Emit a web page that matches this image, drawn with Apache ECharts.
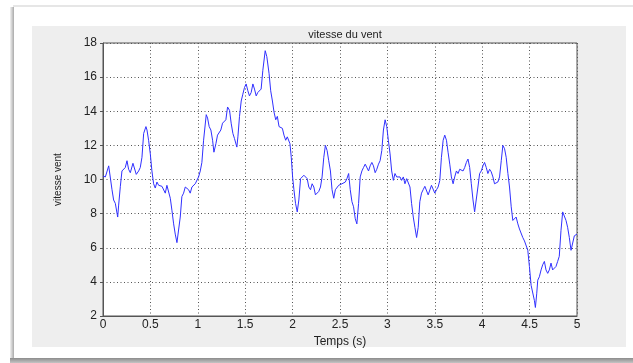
<!DOCTYPE html>
<html><head><meta charset="utf-8">
<script src="https://cdn.jsdelivr.net/npm/echarts@6/dist/echarts.min.js"></script>
<style>html,body{margin:0;padding:0;background:#fff}#c{width:633px;height:363px}</style>
</head><body><div id="c"></div>
<script>
const titleText = 'vitesse du vent';
const xName = 'Temps (s)';
const yName = 'vitesse vent';
const xTickValues = [0, 0.5, 1, 1.5, 2, 2.5, 3, 3.5, 4, 4.5, 5];
const yTickValues = [2, 4, 6, 8, 10, 12, 14, 16, 18];

const times = [
0,0.025,0.06,0.077,0.095,0.112,0.13,0.155,0.165,0.183,0.2,0.218,0.235,0.253,0.27,0.288,0.316,0.33,0.351,0.376,
0.393,0.411,0.429,0.453,0.464,0.481,0.499,0.516,0.534,0.551,0.569,0.587,0.604,0.622,0.639,0.657,0.674,0.692,0.71,0.727,
0.745,0.762,0.78,0.797,0.815,0.832,0.85,0.868,0.885,0.903,0.92,0.938,0.955,0.973,0.991,1.008,1.026,1.043,1.061,1.089,
1.103,1.12,1.138,1.156,1.17,1.191,1.208,1.226,1.243,1.261,1.279,1.296,1.314,1.324,1.335,1.352,1.37,1.387,1.412,1.423,
1.44,1.458,1.475,1.493,1.51,1.528,1.545,1.563,1.581,1.598,1.616,1.633,1.651,1.668,1.686,1.711,1.728,
1.752,1.769,1.787,1.804,1.822,1.839,1.857,1.874,1.892,1.909,1.927,1.944,1.962,1.972,1.986,2.0,2.014,2.031,2.049,2.066,
2.084,2.101,2.119,2.136,2.154,2.171,2.189,2.206,2.224,2.241,2.259,2.276,2.294,2.311,2.329,2.346,2.364,2.381,2.399,2.416,
2.434,2.451,2.469,2.486,2.503,2.521,2.538,2.556,2.573,2.591,2.608,2.626,2.643,2.661,2.678,2.696,2.713,2.731,2.748,2.766,
2.783,2.801,2.818,2.836,2.853,2.871,2.888,2.906,2.923,2.941,2.958,2.976,2.993,3.01,3.028,3.045,3.063,3.08,3.098,3.115,
3.133,3.15,3.168,3.185,3.203,3.22,3.238,3.255,3.273,3.29,3.308,3.325,
3.342,3.36,3.377,3.395,3.412,3.43,3.447,3.465,3.482,3.5,3.518,3.535,3.553,3.57,3.588,3.605,3.623,3.64,3.658,3.675,
3.693,3.71,3.728,3.745,3.763,3.78,3.798,3.815,3.833,3.85,3.868,3.885,3.903,3.92,3.938,3.955,3.973,3.99,4.008,4.025,
4.043,4.06,4.078,4.095,4.113,4.13,4.148,4.165,4.183,4.201,4.218,4.236,4.253,4.271,4.288,4.306,4.323,4.341,4.358,4.376,
4.393,4.411,4.428,4.446,4.463,4.481,4.498,4.516,4.533,4.551,4.561,4.575,4.586,4.603,4.621,4.638,4.656,4.673,4.691,4.708,
4.726,4.743,4.761,4.778,4.796,4.813,4.831,4.849,4.866,4.884,4.901,4.919,4.937,4.954,4.972,4.989,5.0
];
const speeds = [
10.2,10.15,10.8,10.7,9.4,8.8,8.6,7.8,8.5,9.6,10.5,10.5,10.7,11.1,10.6,10.4,10.95,10.9,10.3,10.5,
10.7,11.3,12.7,13.1,12.9,12.3,11.5,10.5,9.75,9.5,9.85,9.66,9.56,9.6,9.5,9.2,9.66,9.66,8.9,8.2,
7.4,6.8,6.3,6.4,7.8,9.0,9.2,9.56,9.66,9.4,9.2,9.56,9.66,9.75,9.66,10.15,10.5,11.0,12.3,13.8,
13.6,13.1,12.9,12.3,11.6,12.1,12.6,12.5,12.9,13.3,13.3,13.5,14.25,14.35,14.05,13.3,12.7,12.4,11.9,12.5,
13.7,14.6,15.0,15.4,15.6,15.2,14.9,15.1,15.6,15.3,14.9,15.1,15.2,15.3,16.4,17.55,17.2,
16.2,15.2,14.6,13.95,13.5,13.7,13.1,13.0,13.0,12.6,12.3,12.5,12.4,12.1,11.3,10.15,9.4,8.6,8.1,8.8,
10.05,10.15,10.25,10.35,10.05,9.56,9.4,9.75,9.56,9.1,9.1,9.3,9.56,10.15,11.3,12.0,11.7,11.1,10.5,9.4,
8.9,9.4,9.3,9.66,9.56,9.75,9.66,9.85,10.05,10.35,9.4,8.7,8.4,7.7,7.4,8.6,10.15,10.5,10.7,10.9,
11.0,10.5,10.8,11.0,10.8,10.4,10.6,10.9,11.1,11.7,12.9,13.5,13.1,12.3,11.5,10.5,9.95,10.35,10.15,10.05,
10.15,9.95,10.15,9.75,10.05,10.15,9.56,8.6,7.8,7.2,6.6,7.2,
8.7,9.2,9.4,9.6,9.5,9.1,9.1,9.66,9.56,9.2,9.4,9.56,9.95,11.3,12.3,12.6,12.3,11.6,10.9,10.15,
9.75,10.15,10.5,10.35,10.6,10.7,10.5,10.7,11.0,11.2,10.7,9.75,8.8,8.1,8.1,9.56,10.35,10.5,10.8,11.0,
10.7,10.35,10.6,10.45,10.15,9.75,9.85,9.85,10.15,11.1,12.0,11.8,11.3,10.35,9.56,8.4,7.6,7.7,7.8,7.4,
7.1,7.0,6.6,6.4,6.5,5.85,4.9,3.8,3.7,2.9,2.5,3.3,4.1,4.3,4.7,5.0,5.2,4.7,4.5,4.7,
5.1,4.7,4.6,4.9,5.2,5.5,7.0,8.1,8.0,7.6,7.2,6.6,5.85,5.95,6.7,6.8,6.8
];

const FONT = 'Liberation Sans, Arial, Helvetica, sans-serif';
const data = times.map((t, i) => [t, speeds[i]]);
const chart = echarts.init(document.getElementById('c'), null, {renderer: 'canvas'});
chart.setOption({
  animation: false,
  backgroundColor: '#ffffff',
  graphic: [
    {type: 'rect', z: -100, silent: true, shape: {x: 13, y: 5, width: 620, height: 2}, style: {fill: '#e6e6e6'}},
    {type: 'rect', z: -100, silent: true, shape: {x: 10, y: 7, width: 4, height: 352},
      style: {fill: new echarts.graphic.LinearGradient(0, 0, 1, 0, [{offset: 0, color: '#f2f2f2'}, {offset: 1, color: '#aaaaaa'}])}},
    {type: 'rect', z: -100, silent: true, shape: {x: 10, y: 358, width: 623, height: 5},
      style: {fill: new echarts.graphic.LinearGradient(0, 0, 0, 1, [{offset: 0, color: '#8c8c8c'}, {offset: 1, color: '#c4c4c4'}])}},
    {type: 'rect', z: -100, silent: true, shape: {x: 32, y: 26, width: 594, height: 321}, style: {fill: '#eeeeee'}}
  ],
  title: {
    text: titleText, left: 340, top: 24, textAlign: 'center',
    textStyle: {fontFamily: FONT, fontSize: 11, fontWeight: 'normal', color: '#222'}
  },
  grid: {
    left: 103, top: 43, right: 56, bottom: 47,
    show: true, backgroundColor: '#ffffff', borderColor: '#555', borderWidth: 1
  },
  xAxis: {
    type: 'value',
    min: xTickValues[0], max: xTickValues[xTickValues.length - 1],
    interval: xTickValues[1] - xTickValues[0],
    name: xName, nameLocation: 'middle', nameGap: 18,
    nameTextStyle: {fontFamily: FONT, fontSize: 12, color: '#222'},
    axisLine: {show: true, lineStyle: {color: '#555', width: 1}},
    axisTick: {show: false},
    axisLabel: {fontFamily: FONT, fontSize: 12, color: '#222', margin: 3},
    splitLine: {show: true, lineStyle: {color: '#555', width: 1, type: [1, 2.5]}}
  },
  yAxis: {
    type: 'value',
    min: yTickValues[0], max: yTickValues[yTickValues.length - 1],
    interval: yTickValues[1] - yTickValues[0],
    name: yName, nameLocation: 'middle', nameGap: 40, nameRotate: 90,
    nameTextStyle: {fontFamily: FONT, fontSize: 10, color: '#222'},
    axisLine: {show: true, lineStyle: {color: '#555', width: 1}},
    axisTick: {show: true, length: 3, lineStyle: {color: '#555'}},
    axisLabel: {fontFamily: FONT, fontSize: 12, color: '#222', margin: 6},
    splitLine: {show: true, lineStyle: {color: '#555', width: 1, type: [1, 2.5]}}
  },
  series: [{
    type: 'line', data: data, showSymbol: false, symbol: 'none',
    lineStyle: {color: '#3030ff', width: 1}
  }]
});
</script>
</body></html>
